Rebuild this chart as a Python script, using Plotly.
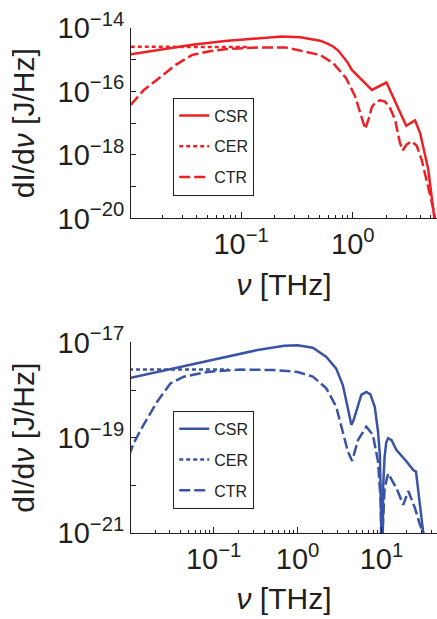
import plotly.graph_objects as go

# ---------------- data (top panel, red) ----------------
red_csr_x = [0.0103, 0.0184, 0.0365, 0.072, 0.143, 0.232, 0.339, 0.417, 0.51, 0.60, 0.67, 0.74,
             0.82, 0.90, 0.98, 1.05, 1.48, 2.0, 2.55, 3.0, 3.6, 4.0, 4.73, 5.43, 5.6]
red_csr_y = [1.48e-15, 2.04e-15, 2.95e-15, 3.89e-15, 4.79e-15, 5.37e-15, 5.13e-15, 4.57e-15, 3.98e-15,
             3.16e-15, 2.57e-15, 1.95e-15, 1.26e-15, 8.13e-16, 4.79e-16, 3.80e-16, 1.12e-16, 1.91e-16,
             3.02e-17, 8.32e-18, 1.23e-17, 4.90e-18, 3.47e-19, 1.17e-20, 3.0e-21]

red_cer_x = [0.0103, 0.02, 0.05, 0.09, 0.12]
red_cer_y = [2.57e-15, 2.57e-15, 2.57e-15, 2.55e-15, 2.50e-15]

red_ctr_x = [0.0103, 0.0135, 0.0184, 0.026, 0.0365, 0.051, 0.072, 0.143, 0.25, 0.339, 0.51, 0.67,
             0.87, 1.05, 1.20, 1.29, 1.38, 1.48, 1.61, 1.75, 1.94, 2.15, 2.39, 2.64, 2.8, 3.03,
             3.36, 3.73, 4.13, 4.73, 5.18, 5.43, 5.6]
red_ctr_y = [3.8e-17, 1.12e-16, 2.63e-16, 6.92e-16, 1.41e-15, 1.82e-15, 2.14e-15, 2.45e-15, 2.45e-15,
             1.95e-15, 1.41e-15, 7.76e-16, 2.63e-16, 6.92e-17, 1.62e-17, 6.61e-18, 1.29e-17, 3.24e-17,
             4.79e-17, 5.25e-17, 4.79e-17, 3.02e-17, 1.29e-17, 2.40e-18, 1.41e-18, 2.14e-18,
             2.69e-18, 1.95e-18, 7.08e-19, 1.02e-19, 2.45e-20, 1.07e-20, 3.0e-21]

# ---------------- data (bottom panel, blue) ----------------
blue_csr_x = [0.0098, 0.0211, 0.053, 0.133, 0.333, 0.695, 1.0, 1.52, 2.19, 2.89, 3.47, 3.98, 4.17,
              4.37, 4.66, 5.25, 5.75, 6.6, 7.38, 8.32, 9.1, 9.6, 10.0, 10.25, 10.5, 10.9, 11.4,
              12.0, 13.2, 15.1, 19.9, 23.9, 25.8, 27.4, 29.3, 31.5, 33.0]
blue_csr_y = [1.78e-18, 2.40e-18, 3.47e-18, 5.01e-18, 6.92e-18, 8.51e-18, 8.71e-18, 7.76e-18,
              5.01e-18, 2.82e-18, 1.26e-18, 4.17e-19, 2.75e-19, 1.86e-19, 2.34e-19, 4.90e-19,
              7.94e-19, 9.12e-19, 8.13e-19, 4.47e-19, 1.35e-19, 3.98e-20, 4.57e-21, 1.0e-22,
              1.0e-20, 3.98e-20, 7.94e-20, 9.77e-20, 8.91e-20, 5.50e-20, 3.16e-20, 2.09e-20,
              1.95e-20, 7.41e-21, 2.82e-21, 1.0e-21, 1.0e-22]

blue_cer_x = [0.0098, 0.02, 0.05, 0.1, 0.15]
blue_cer_y = [2.69e-18, 2.69e-18, 2.69e-18, 2.69e-18, 2.69e-18]

blue_ctr_x = [0.0098, 0.0111, 0.0146, 0.0211, 0.0305, 0.044, 0.084, 0.21, 0.53, 1.0, 1.52, 2.19,
              2.89, 3.47, 3.98, 4.47, 5.25, 6.6, 7.9, 9.1, 9.8, 10.05, 10.3, 10.9, 12.0, 15.1,
              18.2, 20.9, 25.1, 28.8, 31.6, 33.0]
blue_ctr_y = [4.17e-20, 7.59e-20, 1.86e-19, 5.62e-19, 1.38e-18, 1.91e-18, 2.40e-18, 2.69e-18,
              2.63e-18, 2.40e-18, 1.91e-18, 1.10e-18, 4.47e-19, 1.35e-19, 5.13e-20, 3.24e-20,
              8.91e-20, 1.70e-19, 1.15e-19, 3.16e-20, 4.57e-21, 1.0e-22, 1.0e-21, 8.71e-21,
              1.78e-20, 8.71e-21, 3.89e-21, 7.59e-21, 3.31e-21, 1.48e-21, 1.0e-21, 1.0e-22]

series_names = ["CSR", "CER", "CTR"]

top_ytickvals = [1e-20, 1e-19, 1e-18, 1e-17, 1e-16, 1e-15, 1e-14]
top_yticktext = ["10<sup>−20</sup>", "", "10<sup>−18</sup>", "", "10<sup>−16</sup>", "", "10<sup>−14</sup>"]
bot_ytickvals = [1e-21, 1e-20, 1e-19, 1e-18, 1e-17]
bot_yticktext = ["10<sup>−21</sup>", "", "10<sup>−19</sup>", "", "10<sup>−17</sup>"]
top_xtickvals = [0.1, 1]
top_xticktext = ["10<sup>−1</sup>", "10<sup>0</sup>"]
bot_xtickvals = [0.1, 1, 10]
bot_xticktext = ["10<sup>−1</sup>", "10<sup>0</sup>", "10<sup>1</sup>"]

# ---------------- styles ----------------
RED = "#ED2024"
BLUE = "#3953A5"
INK = "#231F20"
FONT = "Liberation Sans, Arial, Helvetica, sans-serif"
dashes = ["solid", "4px,3px", "11px,4px"]

fig = go.Figure()

top_sets = [(red_csr_x, red_csr_y), (red_cer_x, red_cer_y), (red_ctr_x, red_ctr_y)]
bot_sets = [(blue_csr_x, blue_csr_y), (blue_cer_x, blue_cer_y), (blue_ctr_x, blue_ctr_y)]

for i, (xs, ys) in enumerate(top_sets):
    fig.add_trace(go.Scatter(x=xs, y=ys, mode="lines", name=series_names[i],
                             line=dict(color=RED, width=2.5, dash=dashes[i]),
                             xaxis="x", yaxis="y", legend="legend",
                             legendgroup="t" + str(i)))
for i, (xs, ys) in enumerate(bot_sets):
    fig.add_trace(go.Scatter(x=xs, y=ys, mode="lines", name=series_names[i],
                             line=dict(color=BLUE, width=2.5, dash=dashes[i]),
                             xaxis="x2", yaxis="y2", legend="legend2",
                             legendgroup="b" + str(i)))

axis_common = dict(showline=True, linecolor=INK, linewidth=1, showgrid=False, zeroline=False,
                   ticks="inside", tickcolor=INK, tickwidth=1, mirror=False,
                   tickfont=dict(family=FONT, size=29, color=INK), type="log")

xminor = dict(ticks="inside", ticklen=3.5, tickcolor=INK, tickwidth=1, dtick="D1", showgrid=False)
title_font = dict(family=FONT, size=30, color=INK)

fig.update_layout(
    width=437, height=619,
    margin=dict(l=131, r=0, t=28, b=86),
    paper_bgcolor="white", plot_bgcolor="white",
    showlegend=True,
    xaxis=dict(axis_common, range=[-1.985, 0.753], domain=[0, 1], anchor="y",
               tickmode="array", tickvals=top_xtickvals, ticktext=top_xticktext, ticklen=6,
               minor=xminor,
               title=dict(text="<i>ν</i> [THz]", font=title_font, standoff=14)),
    yaxis=dict(axis_common, range=[-20, -14], domain=[0.6228, 1.0], anchor="x",
               tickmode="array", tickvals=top_ytickvals, ticktext=top_yticktext, ticklen=5,
               title=dict(text="dI/d<i>ν</i> [J/Hz]", font=title_font, standoff=14)),
    xaxis2=dict(axis_common, range=[-1.985, 1.662], domain=[0, 1], anchor="y2",
                tickmode="array", tickvals=bot_xtickvals, ticktext=bot_xticktext, ticklen=6,
                minor=xminor,
                title=dict(text="<i>ν</i> [THz]", font=title_font, standoff=14)),
    yaxis2=dict(axis_common, range=[-21, -17], domain=[0, 0.3774], anchor="x2",
                tickmode="array", tickvals=bot_ytickvals, ticktext=bot_yticktext, ticklen=5,
                title=dict(text="dI/d<i>ν</i> [J/Hz]", font=title_font, standoff=14)),
    legend=dict(x=0.138, y=0.8623, xanchor="left", yanchor="top", bgcolor="white",
                bordercolor=INK, borderwidth=1, font=dict(family=FONT, size=16, color=INK),
                traceorder="grouped", tracegroupgap=7),
    legend2=dict(x=0.138, y=0.242, xanchor="left", yanchor="top", bgcolor="white",
                 bordercolor=INK, borderwidth=1, font=dict(family=FONT, size=16, color=INK),
                 traceorder="grouped", tracegroupgap=7),
)

fig.write_html("out.html")
